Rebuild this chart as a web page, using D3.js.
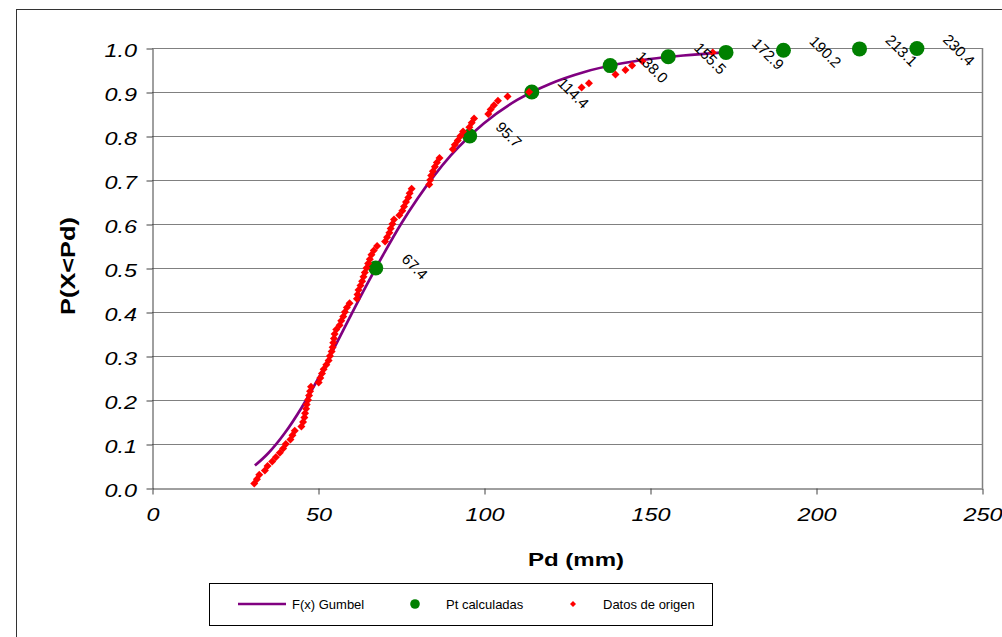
<!DOCTYPE html>
<html>
<head>
<meta charset="utf-8">
<script src="https://cdn.jsdelivr.net/npm/d3@7"></script>
<style>
  html, body { margin: 0; padding: 0; background: #fff; }
  svg { display: block; }
  text { font-family: "Liberation Sans", Arial, sans-serif; }
</style>
</head>
<body>
<svg id="chart" width="1002" height="637"></svg>
<script>
// ---- data ----
const xTicks = [0, 50, 100, 150, 200, 250];
const yTicks = [0, 0.1, 0.2, 0.3, 0.4, 0.5, 0.6, 0.7, 0.8, 0.9, 1.0];

// F(x) Gumbel curve
const curveX = [31, 35, 40, 45, 50, 55, 60, 65, 70, 75, 80, 85, 90, 95, 100, 110, 120, 130, 140, 150, 160, 173];
const curveP = [0.051, 0.079, 0.125, 0.182, 0.248, 0.320, 0.394, 0.466, 0.535, 0.600, 0.658, 0.710, 0.756, 0.795, 0.829, 0.882, 0.919, 0.945, 0.963, 0.975, 0.983, 0.990];

// Pt calculadas
const calcX = [67.4, 95.7, 114.4, 138.0, 155.5, 172.9, 190.2, 213.1, 230.4];
const calcP = [0.5, 0.8, 0.9, 0.96, 0.98, 0.99, 0.995, 0.998, 0.999];
const calcLabels = ["67.4", "95.7", "114.4", "138.0", "155.5", "172.9", "190.2", "213.1", "230.4"];

// Datos de origen
const datosX = [30.8, 31.6, 32.3, 34.0, 34.8, 36.2, 37.3, 38.5, 39.5, 40.3,
                41.7, 42.3, 43.0, 45.0, 45.5, 45.9, 46.1, 46.4, 46.6, 47.0,
                47.3, 47.6, 47.9, 50.2, 50.7, 51.2, 51.7, 52.5, 53.2, 53.6,
                54.1, 54.4, 54.6, 54.8, 55.0, 55.5, 56.5, 57.0, 57.6, 58.1,
                58.7, 59.5, 61.7, 61.9, 62.2, 62.8, 63.3, 63.7, 64.1, 64.6,
                65.1, 65.6, 66.1, 66.8, 67.8, 70.2, 70.8, 71.5, 71.9, 72.4,
                72.9, 74.5, 75.4, 75.9, 76.5, 77.2, 77.6, 78.2, 83.5, 83.8,
                84.1, 84.6, 85.2, 85.8, 86.6, 90.6, 91.2, 92.1, 92.9, 93.7,
                95.6, 96.3, 97.0, 101.3, 102.0, 103.0, 104.2, 107.1, 113.6, 129.4,
                131.6, 139.6, 142.6, 144.6, 147.7, 168.9];
const datosP = [0.01, 0.02, 0.03, 0.04, 0.05, 0.06, 0.07, 0.08, 0.09, 0.10,
                0.11, 0.12, 0.13, 0.14, 0.15, 0.16, 0.17, 0.18, 0.19, 0.20,
                0.21, 0.22, 0.23, 0.24, 0.25, 0.26, 0.27, 0.28, 0.29, 0.30,
                0.31, 0.32, 0.33, 0.34, 0.35, 0.36, 0.37, 0.38, 0.39, 0.40,
                0.41, 0.42, 0.43, 0.44, 0.45, 0.46, 0.47, 0.48, 0.49, 0.50,
                0.51, 0.52, 0.53, 0.54, 0.55, 0.56, 0.57, 0.58, 0.59, 0.60,
                0.61, 0.62, 0.63, 0.64, 0.65, 0.66, 0.67, 0.68, 0.69, 0.70,
                0.71, 0.72, 0.73, 0.74, 0.75, 0.77, 0.78, 0.79, 0.80, 0.81,
                0.82, 0.83, 0.84, 0.85, 0.86, 0.87, 0.88, 0.89, 0.90, 0.91,
                0.92, 0.94, 0.95, 0.96, 0.97, 0.99];

const legendLabels = ["F(x) Gumbel", "Pt calculadas", "Datos de origen"];
const xTitle = "Pd (mm)";
const yTitle = "P(X<Pd)";

// ---- layout ----
const plot = { left: 152, right: 982, top: 48, bottom: 488 };
const stretch = 1.3;

const svg = d3.select("#chart");

// outer chart frame
svg.append("rect")
  .attr("x", 16.5).attr("y", 9.5)
  .attr("width", 1010).attr("height", 700)
  .attr("fill", "#fff").attr("stroke", "#333").attr("stroke-width", 1);

const x = d3.scaleLinear().domain([0, 250]).range([plot.left, plot.right]);
const y = d3.scaleLinear().domain([0, 1]).range([plot.bottom, plot.top]);

// gridlines
svg.append("g")
  .selectAll("line")
  .data(yTicks.filter(d => d > 0))
  .join("line")
  .attr("x1", plot.left).attr("x2", plot.right)
  .attr("y1", d => Math.round(y(d)) + 0.5).attr("y2", d => Math.round(y(d)) + 0.5)
  .attr("stroke", "#808080").attr("stroke-width", 1);

// right border of plot area
svg.append("line")
  .attr("x1", plot.right + 0.5).attr("x2", plot.right + 0.5)
  .attr("y1", plot.top).attr("y2", plot.bottom)
  .attr("stroke", "#808080").attr("stroke-width", 1.5);

// axes
const axisColor = "#404040";
const yAxis = svg.append("g")
  .attr("transform", `translate(${plot.left + 0.5},0.5)`)
  .call(d3.axisLeft(y).tickValues(yTicks).tickFormat(d3.format(".1f")).tickSize(6).tickSizeOuter(0));
yAxis.select(".domain").attr("stroke", axisColor);
yAxis.selectAll(".tick line").attr("stroke", axisColor);
yAxis.selectAll(".tick text")
  .attr("x", -15.5 / stretch).attr("dy", 0).attr("y", 7.5)
  .attr("transform", `scale(${stretch},1)`)
  .attr("text-anchor", "end")
  .style("font-family", '"Liberation Sans", Arial, sans-serif')
  .style("font-size", "18px").style("font-style", "italic").attr("fill", "#000");

const xAxis = svg.append("g")
  .attr("transform", `translate(0.5,${plot.bottom + 0.5})`)
  .call(d3.axisBottom(x).tickValues(xTicks).tickFormat(d3.format("d")).tickSize(6).tickSizeOuter(0));
xAxis.select(".domain").attr("stroke", axisColor);
xAxis.selectAll(".tick line").attr("stroke", axisColor);
xAxis.selectAll(".tick text")
  .attr("y", 33).attr("dy", 0)
  .attr("transform", `scale(${stretch},1)`)
  .attr("text-anchor", "middle")
  .style("font-family", '"Liberation Sans", Arial, sans-serif')
  .style("font-size", "18px").style("font-style", "italic").attr("fill", "#000");

// axis titles
svg.append("text")
  .attr("transform", `translate(576,566) scale(${stretch},1)`)
  .attr("text-anchor", "middle")
  .style("font-size", "18.5px").style("font-weight", "bold")
  .text(xTitle);

svg.append("text")
  .attr("transform", `translate(75,266) rotate(-90) scale(${stretch},1)`)
  .attr("text-anchor", "middle")
  .style("font-size", "19.5px").style("font-weight", "bold")
  .text(yTitle);

// Gumbel curve
const curveData = curveX.map((d, i) => [d, curveP[i]]);
svg.append("path")
  .datum(curveData)
  .attr("d", d3.line().x(d => x(d[0])).y(d => y(d[1])).curve(d3.curveMonotoneX))
  .attr("fill", "none").attr("stroke", "#800080").attr("stroke-width", 2.7);

// calculated points
const calcData = calcX.map((d, i) => ({ x: d, p: calcP[i], label: calcLabels[i] }));
svg.append("g")
  .selectAll("circle")
  .data(calcData)
  .join("circle")
  .attr("cx", d => x(d.x)).attr("cy", d => y(d.p))
  .attr("r", 7.5).attr("fill", "#008000");

// origin data (diamonds)
const diamond = r => `M0,${-r}L${r},0L0,${r}L${-r},0Z`;
const datosData = datosX.map((d, i) => [d, datosP[i]]);
svg.append("g")
  .selectAll("path")
  .data(datosData)
  .join("path")
  .attr("transform", d => `translate(${x(d[0])},${y(d[1])})`)
  .attr("d", diamond(4))
  .attr("fill", "#ff0000");

// data labels
svg.append("g")
  .selectAll("text")
  .data(calcData)
  .join("text")
  .attr("transform", d => `translate(${x(d.x) + 25},${y(d.p) - 8}) rotate(45)`)
  .style("font-size", "15px").attr("fill", "#000")
  .text(d => d.label);

// legend
const lg = svg.append("g");
lg.append("rect")
  .attr("x", 209.5).attr("y", 583.5).attr("width", 503).attr("height", 42)
  .attr("fill", "#fff").attr("stroke", "#000").attr("stroke-width", 1);
const ly = 604;
lg.append("line")
  .attr("x1", 238).attr("x2", 286).attr("y1", ly).attr("y2", ly)
  .attr("stroke", "#800080").attr("stroke-width", 2.5);
lg.append("circle").attr("cx", 415).attr("cy", ly).attr("r", 4.8).attr("fill", "#008000");
lg.append("path").attr("transform", `translate(573,${ly})`).attr("d", diamond(3)).attr("fill", "#ff0000");
const legendX = [292, 446, 603];
lg.selectAll("text.leg")
  .data(legendLabels)
  .join("text")
  .attr("class", "leg")
  .attr("x", (d, i) => legendX[i]).attr("y", ly + 4.5)
  .style("font-size", "13px").attr("fill", "#000")
  .text(d => d);
</script>
</body>
</html>
